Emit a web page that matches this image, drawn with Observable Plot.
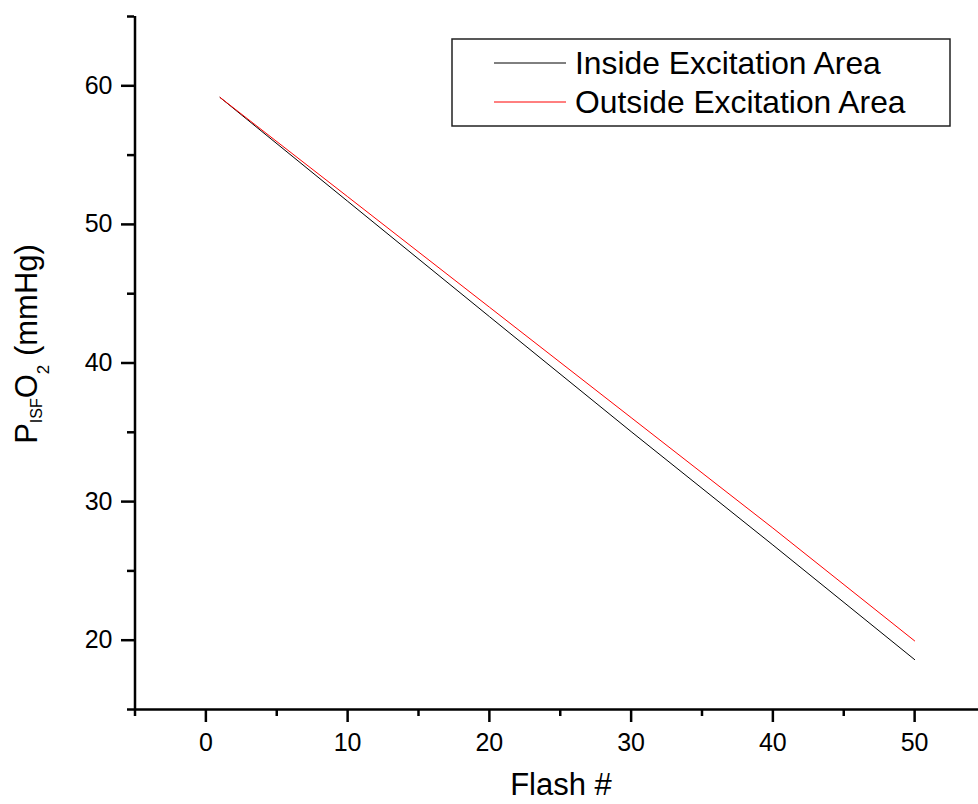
<!DOCTYPE html>
<html>
<head>
<meta charset="utf-8">
<script src="https://cdn.jsdelivr.net/npm/d3@7"></script>
<script src="https://cdn.jsdelivr.net/npm/@observablehq/plot@0.6"></script>
<style>
  html, body { margin: 0; padding: 0; background: white; overflow: hidden; }
  #chart svg { display: block; }
</style>
</head>
<body>
<div id="chart"></div>
<script>
// ---- data ----
const flash = [1, 10, 20, 30, 40, 50];
const insideValues = [59.16, 51.67, 43.35, 35.05, 26.87, 18.6];
const outsideValues = [59.16, 52.0, 44.03, 36.06, 28.09, 19.95];
const seriesNames = ["Inside Excitation Area", "Outside Excitation Area"];
const seriesColors = ["black", "red"];
const xTicks = [0, 10, 20, 30, 40, 50];
const xMinorTicks = [-5, 5, 15, 25, 35, 45, 55];
const yTicks = [20, 30, 40, 50, 60];
const yMinorTicks = [15, 25, 35, 45, 55, 65];
const xTitle = "Flash #";

const rows = [];
flash.forEach((f, i) => rows.push({flash: f, value: insideValues[i], series: seriesNames[0]}));
flash.forEach((f, i) => rows.push({flash: f, value: outsideValues[i], series: seriesNames[1]}));

const FONT = "'Liberation Sans', Arial, Helvetica, sans-serif";

const svg = Plot.plot({
  width: 978,
  height: 804,
  marginLeft: 134,
  marginRight: 0,
  marginTop: 16,
  marginBottom: 95,
  x: {domain: [-5, 55], range: [134.5, 985]},
  y: {domain: [15, 65], range: [709, 16]},
  color: {domain: seriesNames, range: seriesColors},
  style: {fontFamily: FONT, color: "black", background: "white", overflow: "hidden"},
  marks: [
    Plot.axisX(xMinorTicks, {tickSize: 7, strokeWidth: 2.5, tickFormat: () => "", label: null}),
    Plot.axisX(xTicks, {tickSize: 13, strokeWidth: 2.5, tickPadding: 11, fontSize: 25, label: null, tickFormat: d => String(d)}),
    Plot.axisY(yMinorTicks, {tickSize: 7, strokeWidth: 2.5, tickFormat: () => "", label: null}),
    Plot.axisY(yTicks, {tickSize: 13, strokeWidth: 2.5, tickPadding: 9, fontSize: 25, label: null, tickFormat: d => String(d)}),
    Plot.ruleY([15], {x1: -5, x2: 55, stroke: "black", strokeWidth: 2.5}),
    Plot.ruleX([-5], {y1: 15, y2: 65, stroke: "black", strokeWidth: 2.5}),
    Plot.line(rows, {x: "flash", y: "value", stroke: "series", z: "series", strokeWidth: 1})
  ]
});

const s = d3.select(svg);

// x-axis title
s.append("text")
  .attr("x", 561).attr("y", 795)
  .attr("text-anchor", "middle")
  .attr("font-family", FONT).attr("font-size", 31).attr("fill", "black")
  .text(xTitle);

// y-axis title with subscripts
const yt = s.append("text")
  .attr("transform", "translate(37,344) rotate(-90)")
  .attr("text-anchor", "middle")
  .attr("font-family", FONT).attr("font-size", 31).attr("fill", "black");
yt.append("tspan").text("P");
yt.append("tspan").attr("font-size", 16).attr("dy", 5).text("ISF");
yt.append("tspan").attr("dy", -5).text("O");
yt.append("tspan").attr("font-size", 17).attr("dy", 12).text("2");
yt.append("tspan").attr("dy", -12).text(" (mmHg)");

// legend
const lg = s.append("g");
lg.append("rect")
  .attr("x", 452).attr("y", 39).attr("width", 498).attr("height", 87)
  .attr("fill", "white").attr("stroke", "#222").attr("stroke-width", 1.5);
seriesNames.forEach((name, i) => {
  const cy = 63 + i * 39;
  lg.append("line")
    .attr("x1", 494).attr("x2", 566).attr("y1", cy).attr("y2", cy)
    .attr("stroke", seriesColors[i]).attr("stroke-width", 1);
  lg.append("text")
    .attr("x", 575).attr("y", cy + 11)
    .attr("text-anchor", "start")
    .attr("font-family", FONT).attr("font-size", 31.8).attr("fill", "black")
    .text(name);
});

document.getElementById("chart").appendChild(svg);
</script>
</body>
</html>
